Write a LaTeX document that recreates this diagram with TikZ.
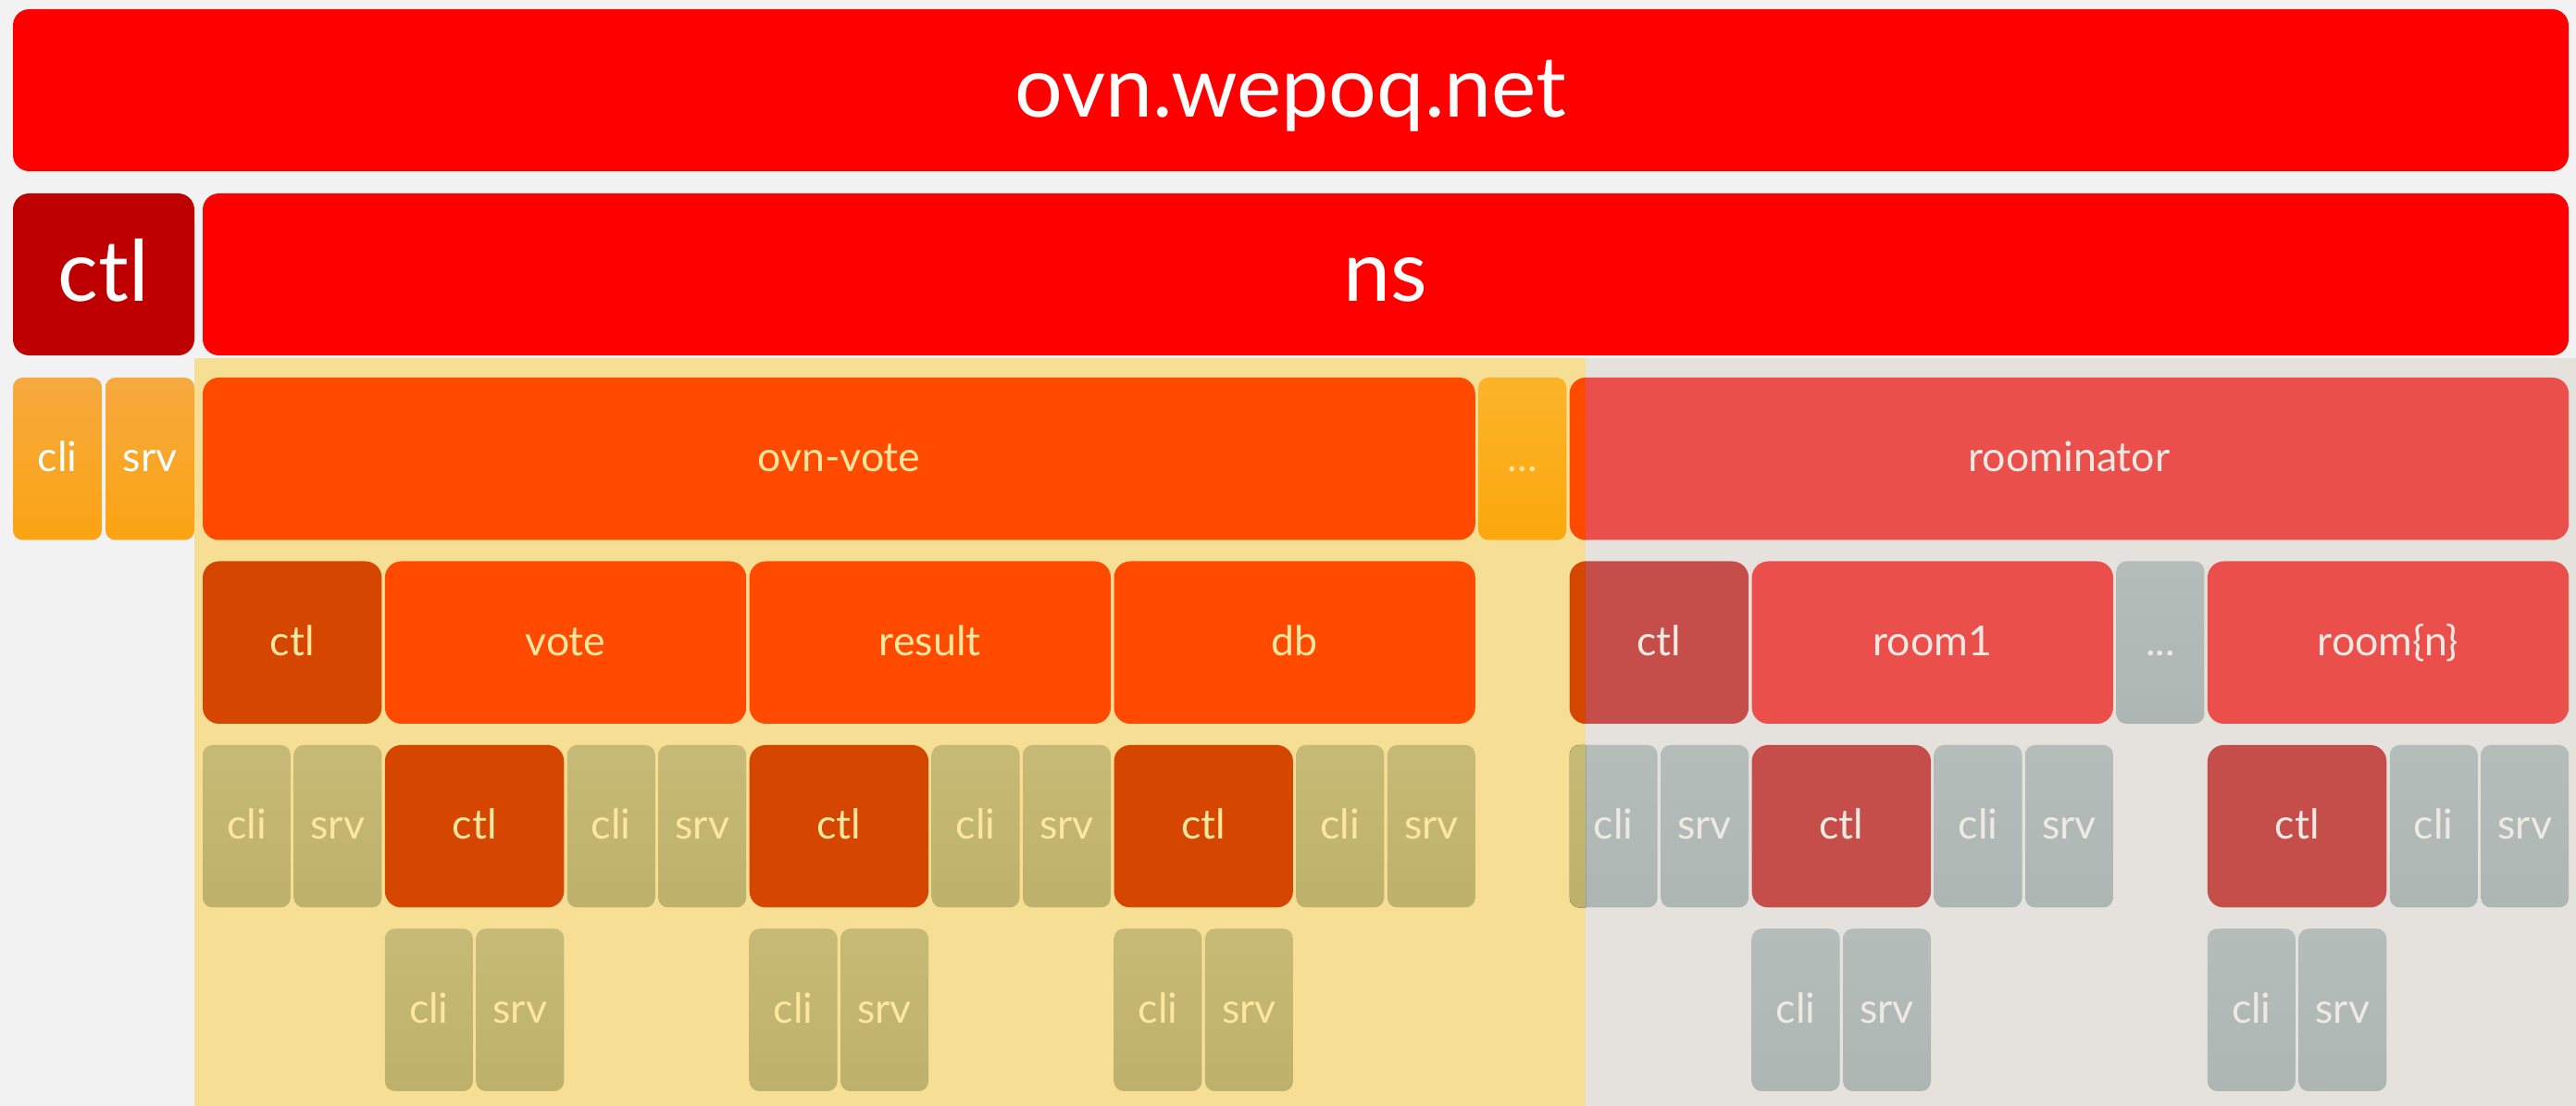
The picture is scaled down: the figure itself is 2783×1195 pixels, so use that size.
\documentclass[tikz,border=0pt]{standalone}
\usepackage{fontspec}
\setmainfont{Lato}
\definecolor{leftbg}{HTML}{F2F2F2}
\definecolor{yelbg}{HTML}{F6DE95}
\definecolor{graybg}{HTML}{E5E2DD}
\definecolor{topred}{HTML}{FF0000}
\definecolor{dred}{HTML}{BF0000}
\definecolor{org}{HTML}{FF4A00}
\definecolor{dorg}{HTML}{D54600}
\definecolor{lclitop}{HTML}{F6A93F}
\definecolor{lclibot}{HTML}{FBA413}
\definecolor{ldotstop}{HTML}{FBB42A}
\definecolor{ldotsbot}{HTML}{FBA70C}
\definecolor{olivetop}{HTML}{C7BA76}
\definecolor{olivebot}{HTML}{BDB16B}
\definecolor{rred}{HTML}{EB4F4B}
\definecolor{rctlc}{HTML}{C54E4A}
\definecolor{rgraytop}{HTML}{B5BDBA}
\definecolor{rgraybot}{HTML}{ADB6B3}
\definecolor{ty}{HTML}{FCE6A0}
\definecolor{tg}{HTML}{EEEAE3}
\tikzset{
  base/.style={inner sep=0pt, outer sep=0pt, text depth=0pt},
  bigbox/.style={base, text height=16.4pt, rounded corners=5pt, font=\fontsize{26}{30}\selectfont, text=white},
  smbox/.style={base, text height=8.1pt, rounded corners=5pt, font=\fontsize{12.7}{15}\selectfont},
  tinybox/.style={base, text height=8.1pt, rounded corners=3pt, font=\fontsize{12.7}{15}\selectfont},
  lorg/.style={smbox, fill=org, text=ty},
  ldorg/.style={smbox, fill=dorg, text=ty},
  lolive/.style={tinybox, top color=olivetop, bottom color=olivebot, text=ty},
  rredbox/.style={smbox, fill=rred, text=tg},
  rctlbox/.style={smbox, fill=rctlc, text=tg},
  rgray/.style={tinybox, top color=rgraytop, bottom color=rgraybot, text=tg},
}
% free box: name, x1, y1, x2, y2, style, text
\newcommand\bb[7]{\node[#6, minimum width={(#4-#2)*0.01cm}, minimum height={(#5-#3)*0.01cm}] (#1) at ({(#2+#4)/2},{(#3+#5)/2}) {#7};}
% grid box: name, first column, number of columns, row, style, text
\newcommand\gb[6]{\node[#5, minimum width={(#3*98.45-3.5)*0.01cm}, minimum height={175.5*0.01cm}] (#1) at ({219+(#2+#3/2)*98.45-1.75},{495.75+(#4-3)*198.5}) {#6};}
\begin{document}
\begin{tikzpicture}[x=0.01cm, y=-0.01cm]
\fill[leftbg] (0,0) rectangle (2783,1195);
\useasboundingbox (0,0) rectangle (2783,1195);
\fill[yelbg] (210,387) rectangle (1713,1195);
\fill[graybg] (1713,387) rectangle (2783,1195);

% row 1 and 2
\bb{top}{14}{10}{2775}{185}{bigbox, fill=topred}{ovn.wepoq.net}
\bb{ctlA}{14}{209}{210}{384}{bigbox, fill=dred}{ctl}
\bb{ns}{219}{209}{2775}{384}{bigbox, fill=topred}{ns}

% row 3
\bb{lcli}{14}{408}{110}{583.5}{tinybox, top color=lclitop, bottom color=lclibot, text=white}{cli}
\bb{lsrv}{114}{408}{210}{583.5}{tinybox, top color=lclitop, bottom color=lclibot, text=white}{srv}
\gb{ovnvote}{0}{14}{3}{lorg}{ovn-vote}
\gb{dotsA}{14}{1}{3}{tinybox, top color=ldotstop, bottom color=ldotsbot, text=ty}{...}
\gb{roominator}{15}{11}{3}{rredbox}{roominator}

% row 4
\gb{vctl}{0}{2}{4}{ldorg}{ctl}
\gb{vote}{2}{4}{4}{lorg}{vote}
\gb{result}{6}{4}{4}{lorg}{result}
\gb{db}{10}{4}{4}{lorg}{db}
\gb{rctl}{15}{2}{4}{rctlbox}{ctl}
\gb{room1}{17}{4}{4}{rredbox}{room1}
\gb{dotsB}{21}{1}{4}{rgray}{...}
\gb{roomn}{22}{4}{4}{rredbox}{room\{n\}}

% row 5
\gb{vcli}{0}{1}{5}{lolive}{cli}
\gb{vsrv}{1}{1}{5}{lolive}{srv}
\gb{votectl}{2}{2}{5}{ldorg}{ctl}
\gb{votecli}{4}{1}{5}{lolive}{cli}
\gb{votesrv}{5}{1}{5}{lolive}{srv}
\gb{resctl}{6}{2}{5}{ldorg}{ctl}
\gb{rescli}{8}{1}{5}{lolive}{cli}
\gb{ressrv}{9}{1}{5}{lolive}{srv}
\gb{dbctl}{10}{2}{5}{ldorg}{ctl}
\gb{dbcli}{12}{1}{5}{lolive}{cli}
\gb{dbsrv}{13}{1}{5}{lolive}{srv}
\gb{rcli}{15}{1}{5}{rgray}{cli}
\gb{rsrv}{16}{1}{5}{rgray}{srv}
\gb{room1ctl}{17}{2}{5}{rctlbox}{ctl}
\gb{room1cli}{19}{1}{5}{rgray}{cli}
\gb{room1srv}{20}{1}{5}{rgray}{srv}
\gb{roomnctl}{22}{2}{5}{rctlbox}{ctl}
\gb{roomncli}{24}{1}{5}{rgray}{cli}
\gb{roomnsrv}{25}{1}{5}{rgray}{srv}

% row 6
\gb{votectlcli}{2}{1}{6}{lolive}{cli}
\gb{votectlsrv}{3}{1}{6}{lolive}{srv}
\gb{resctlcli}{6}{1}{6}{lolive}{cli}
\gb{resctlsrv}{7}{1}{6}{lolive}{srv}
\gb{dbctlcli}{10}{1}{6}{lolive}{cli}
\gb{dbctlsrv}{11}{1}{6}{lolive}{srv}
\gb{room1ctlcli}{17}{1}{6}{rgray}{cli}
\gb{room1ctlsrv}{18}{1}{6}{rgray}{srv}
\gb{roomnctlcli}{22}{1}{6}{rgray}{cli}
\gb{roomnctlsrv}{23}{1}{6}{rgray}{srv}

% slivers of the roominator column that lie on the yellow area
\begin{scope}
\clip (1690,387) rectangle (1713,1195);
\fill[org, rounded corners=5pt] (roominator.north west) rectangle (roominator.south east);
\fill[dorg, rounded corners=5pt] (rctl.north west) rectangle (rctl.south east);
\fill[top color=olivetop, bottom color=olivebot, rounded corners=3pt] (rcli.north west) rectangle (rcli.south east);
\end{scope}
\end{tikzpicture}
\end{document}
